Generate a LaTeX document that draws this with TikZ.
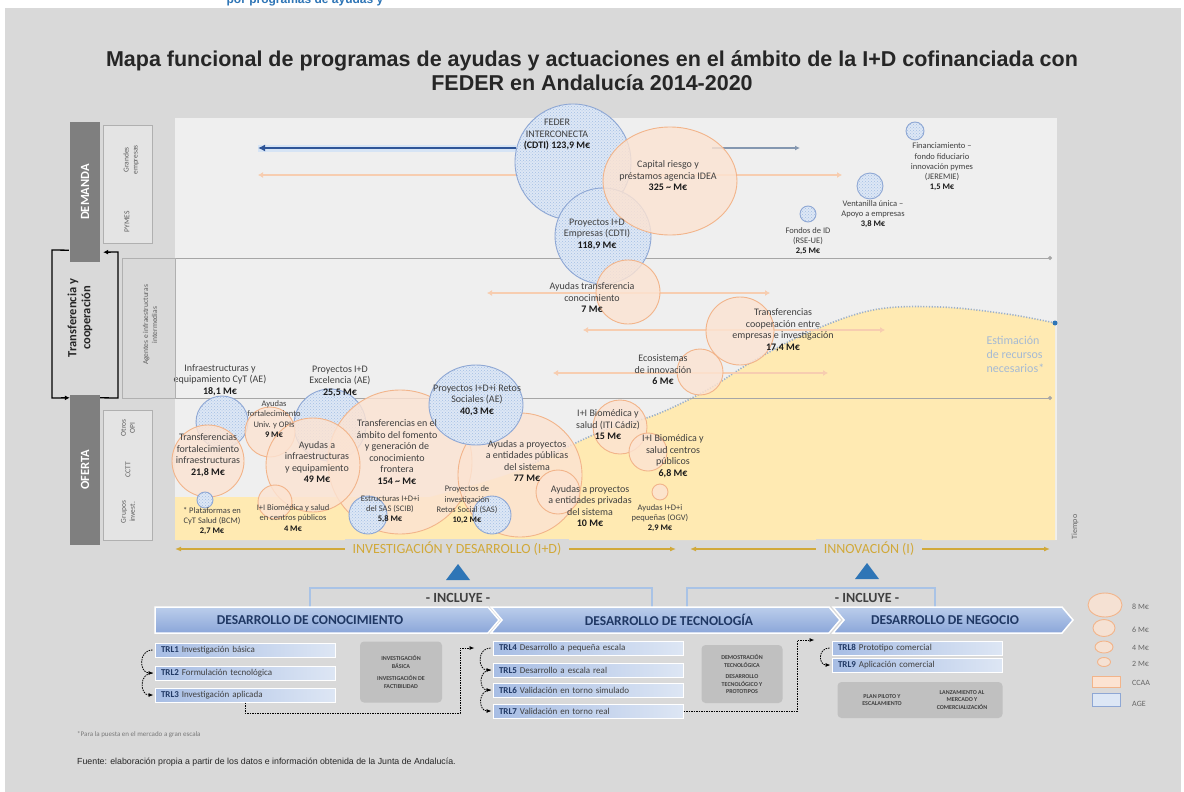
\documentclass[tikz,border=0pt]{standalone}
\usepackage{fontspec}
\setmainfont{Liberation Sans}
\newfontfamily\carl{Carlito}
\usetikzlibrary{patterns,arrows.meta,shapes.geometric}
\definecolor{bggray}{HTML}{D9D9D9}
\definecolor{panelc}{HTML}{EFEFEF}
\definecolor{orf}{HTML}{FCE3D2}
\definecolor{orb}{HTML}{F2B48A}
\definecolor{orl}{HTML}{F7CDB0}
\definecolor{blf}{HTML}{DDE7F5}
\definecolor{blb}{HTML}{8EA7D4}
\definecolor{blp}{HTML}{A3BEE3}
\definecolor{yel}{HTML}{FFEAB2}
\definecolor{goldc}{HTML}{D1A93A}
\definecolor{navy}{HTML}{203864}
\definecolor{dkblue}{HTML}{2F5597}
\definecolor{glow}{HTML}{D6E4F5}
\definecolor{grayblue}{HTML}{8497B0}
\definecolor{txt}{HTML}{404040}
\definecolor{valc}{HTML}{1A1A1A}
\definecolor{darkbox}{HTML}{7F7F7F}
\definecolor{sidebox}{HTML}{E4E4E4}
\definecolor{sideline}{HTML}{B0B0B0}
\definecolor{trlL}{HTML}{A7BDE4}
\definecolor{trlR}{HTML}{DDE6F4}
\definecolor{grbox}{HTML}{C0C0C0}
\definecolor{chevT}{HTML}{BBCDEB}
\definecolor{chevB}{HTML}{8BA6D9}
\definecolor{estim}{HTML}{A5BAD4}
\definecolor{trib}{HTML}{2E75B6}
\definecolor{sepc}{HTML}{A6A6A6}
\definecolor{incl}{HTML}{A9C3E6}
\definecolor{curvec}{HTML}{9DB1CB}
\newcommand{\bval}[1]{{\color{valc}\bfseries #1}}
\begin{document}
\begin{tikzpicture}[x=1pt,y=-1pt,
  ob/.style={circle,draw=orb,fill=orf,fill opacity=0.82,line width=0.9pt,inner sep=0pt,minimum size=#1},
  bb/.style={circle,draw=blb,line width=0.9pt,inner sep=0pt,minimum size=#1,preaction={fill=blf},pattern=crosshatch dots,pattern color=blp},
  lb/.style={font=\carl\fontsize{10}{11.5}\selectfont,text=txt,align=center,inner sep=0pt},
  lbs/.style={font=\carl\fontsize{8.5}{10.3}\selectfont,text=txt,align=center,inner sep=0pt},
  sidetxt/.style={font=\carl\fontsize{7.5}{9}\selectfont,text=txt!85,align=center,rotate=90,inner sep=0pt},
  bigbox/.style={fill=darkbox,minimum width=30pt,inner sep=0pt},
  bigtxt/.style={font=\carl\bfseries\fontsize{12.5}{14}\selectfont,text=white,rotate=90},
  pline/.style={line width=2.2pt,color=orl,{Latex[length=5pt,width=6pt]}-{Latex[length=5pt,width=6pt]}},
  sepl/.style={line width=1pt,color=sepc,-{Circle[length=4pt]}},
  chev/.style={top color=chevT,bottom color=chevB,draw=white,line width=1.5pt},
  chevt/.style={font=\carl\bfseries\fontsize{13.5}{15}\selectfont,text=navy},
  trl/.style={rectangle,left color=trlL,right color=trlR,draw=white,line width=1pt,minimum height=14pt,inner xsep=6pt,inner ysep=0pt,text width=#1,align=left,font=\carl\fontsize{9}{10}\selectfont,text=txt},
  gbox/.style={rectangle,rounded corners=4pt,fill=grbox,inner sep=0pt,align=center,font=\carl\bfseries\fontsize{6}{7.5}\selectfont,text=txt},
  dconn/.style={line width=0.9pt,dash pattern=on 1.5pt off 1pt,-{Latex[length=5pt,width=4pt]}},
  curl/.style={line width=0.8pt,dash pattern=on 1.5pt off 1pt,-{Latex[length=5pt,width=4pt]}},
  goldt/.style={font=\carl\fontsize{14}{16}\selectfont,text=goldc,fill=bggray,inner xsep=8pt},
  goldl/.style={line width=1.3pt,color=goldc,{Latex[length=6pt,width=5pt]}-{Latex[length=6pt,width=5pt]}},
  inclt/.style={font=\carl\bfseries\fontsize{14}{16}\selectfont,text=txt,fill=bggray,inner xsep=4pt,inner ysep=3pt},
  inclb/.style={line width=2.2pt,color=incl},
  legt/.style={font=\carl\fontsize{8}{9}\selectfont,text=txt!80,anchor=west,inner sep=0pt},
]
\useasboundingbox (0,0) rectangle (1184,792);
\fill[white] (0,0) rectangle (1184,792);
\node[font=\bfseries\fontsize{12}{14}\selectfont,text=trib,anchor=base] (toph) at (305,4) {por programas de ayudas y};
\fill[bggray] (5,8) rectangle (1181,792);

% title
\node[font=\bfseries\fontsize{21.5}{24}\selectfont,align=center,text=black!85] (title) at (592,71)
  {Mapa funcional de programas de ayudas y actuaciones en el ámbito de la I+D cofinanciada con\\FEDER en Andalucía 2014-2020};

% panel
\fill[panelc] (175,118) rectangle (1057,540);
\fill[yel] (175,497) -- plot[smooth,tension=0.6] coordinates {(430,497) (520,470) (600,432) (655,415) (707,390) (750,363) (807,333) (873,310) (940,307) (1007,314) (1055,323)} -- (1055,540) -- (175,540) -- cycle;
\draw[curvec,line width=1.6pt,dash pattern=on 1.2pt off 1.6pt] plot[smooth,tension=0.6] coordinates {(520,470) (600,432) (655,415) (707,390) (750,363) (807,333) (873,310) (940,307) (1007,314) (1055,323)};
\fill[trib] (1055,323) circle (2.5pt);
\draw[sepl] (175,258) -- (1052,258);
\draw[sepl] (175,398) -- (1052,398);

% program range lines
\coordinate (bL) at (258,148); \coordinate (bR) at (516,148);
\coordinate (bR2) at (712,148); \coordinate (bE) at (800,148);
\draw[line width=7pt,color=glow] (bL) -- (bR);
\draw[line width=2.2pt,color=dkblue,-{Latex[length=7pt,width=7pt]}] (bR) -- (bL);
\draw[line width=1.8pt,color=grayblue,-{Latex[length=5pt,width=5pt]}] (bR2) -- (bE);
\coordinate (oL) at (258,175); \coordinate (oR) at (842,175);
\draw[pline] (oL) -- (oR);
\coordinate (t1L) at (487,293); \coordinate (t1R) at (770,293);
\draw[pline] (t1L) -- (t1R);
\coordinate (t2L) at (583,330); \coordinate (t2R) at (885,330);
\draw[pline] (t2L) -- (t2R);
\coordinate (t3L) at (553,373); \coordinate (t3R) at (828,373);
\draw[pline] (t3L) -- (t3R);

% demand bubbles
\node[bb=116pt] (feder) at (573,162) {};
\node[bb=96pt] (pie) at (603,236) {};
\node[ob=0pt,ellipse,minimum width=134pt,minimum height=108pt] (capital) at (670,181) {};
\node[bb=16pt] (fondo) at (808,214) {};
\node[bb=26pt] (vent) at (870,186) {};
\node[bb=18pt] (finan) at (915,131) {};

% transfer bubbles
\node[ob=64pt] (ayt) at (628,292) {};
\node[ob=68pt] (tcoop) at (740,331) {};
\node[ob=46pt] (eco) at (700,372) {};

% offer bubbles
\node[bb=52pt] (infcyt) at (222,422) {};
\node[bb=72pt] (exc) at (330,425) {};
\node[ob=144pt] (big) at (400,462) {};
\node[ob=124pt] (p77) at (520,475) {};
\node[bb=0pt,ellipse,minimum width=94pt,minimum height=80pt] (retos) at (476,405) {};
\node[ob=50pt] (fort) at (270,432) {};
\node[ob=72pt] (tfi) at (208,461) {};
\node[ob=94pt] (aie) at (313,465) {};
\node[ob=44pt] (p10) at (558,492) {};
\node[ob=54pt] (b15) at (620,427) {};
\node[ob=38pt] (b68) at (648,452) {};
\node[ob=16pt] (p29) at (660,492) {};
\node[ob=34pt] (b4) at (275,502) {};
\node[bb=38pt] (sas) at (492,515) {};
\node[bb=38pt] (estr) at (368,515) {};
\node[bb=16pt] (plat) at (205,500) {};

% labels demand
\node[lb] (federT) at (557,135) {FEDER\\INTERCONECTA\\\bval{(CDTI) 123,9 M€}};
\node[lb] (pieT) at (597,234) {Proyectos I+D\\Empresas (CDTI)\\\bval{118,9 M€}};
\node[lb] (capT) at (668,176) {Capital riesgo y\\préstamos agencia IDEA\\\bval{325 \textasciitilde{} M€}};
\node[lbs] (fondoT) at (808,241) {Fondos de ID\\(RSE-UE)\\\bval{2,5 M€}};
\node[lbs] (ventT) at (873,214) {Ventanilla única –\\Apoyo a empresas\\\bval{3,8 M€}};
\node[lbs] (finT) at (942,167) {Financiamiento –\\fondo fiduciario\\innovación pymes\\(JEREMIE)\\\bval{1,5 M€}};

% labels transfer
\node[lb] (aytT) at (592,298) {Ayudas transferencia\\conocimiento\\\bval{7 M€}};
\node[lb] (tcoopT) at (783,330) {Transferencias\\cooperación entre\\empresas e investigación\\\bval{17,4 M€}};
\node[lb] (ecoT) at (663,370) {Ecosistemas\\de innovación\\\bval{6 M€}};
\node[font=\carl\fontsize{12}{14}\selectfont,text=estim,align=left,anchor=west] (est) at (983,354) {Estimación\\de recursos\\necesarios*};

% labels offer
\node[lb] (infcytT) at (220,380) {Infraestructuras y\\equipamiento CyT (AE)\\\bval{18,1 M€}};
\node[lb] (excT) at (340,381) {Proyectos I+D\\Excelencia (AE)\\\bval{25,5 M€}};
\node[lbs] (fortT) at (274,419) {Ayudas\\fortalecimiento\\Univ. y OPIs\\\bval{9 M€}};
\node[lb] (tfiT) at (208,455) {Transferencias\\fortalecimiento\\infraestructuras\\\bval{21,8 M€}};
\node[lb] (aieT) at (317,462) {Ayudas a\\infraestructuras\\y equipamiento\\\bval{49 M€}};
\node[lb] (bigT) at (397,452) {Transferencias en el\\ámbito del fomento\\y generación de\\conocimiento\\frontera\\\bval{154 \textasciitilde{} M€}};
\node[lb] (retosT) at (477,400) {Proyectos I+D+i Retos\\Sociales (AE)\\\bval{40,3 M€}};
\node[lb] (p77T) at (527,461) {Ayudas a proyectos\\a entidades públicas\\del sistema\\\bval{77 M€}};
\node[lb] (p10T) at (590,506) {Ayudas a proyectos\\a entidades privadas\\del sistema\\\bval{10 M€}};
\node[lb] (b15T) at (608,425) {I+I Biomédica y\\salud (ITI Cádiz)\\\bval{15 M€}};
\node[lb] (b68T) at (673,456) {I+I Biomédica y\\salud centros\\públicos\\\bval{6,8 M€}};
\node[lbs] (p29T) at (660,518) {Ayudas I+D+i\\pequeñas (OGV)\\\bval{2,9 M€}};
\node[lbs] (sasT) at (467,505) {Proyectos de\\investigación\\Retos Social (SAS)\\\bval{10,2 M€}};
\node[lbs] (estrT) at (390,509) {Estructuras I+D+i\\del SAS (SCIB)\\\bval{5,8 M€}};
\node[lbs] (b4T) at (293,518) {I+I Biomédica y salud\\en centros públicos\\\bval{4 M€}};
\node[lbs] (platT) at (212,521) {* Plataformas en\\CyT Salud (BCM)\\\bval{2,7 M€}};
\node[font=\carl\fontsize{8}{9}\selectfont,text=txt!80,rotate=90] (tiempo) at (1075,527) {Tiempo};

% left side
\node[bigbox,minimum height=140pt] (dem) at (85,192) {};
\node[bigtxt] (demt) at (dem) {DEMANDA};
\node[draw=sideline,fill=sidebox,minimum width=49pt,minimum height=118pt,inner sep=0pt] (demr) at (127.5,184) {};
\node[sidetxt] (ge) at (131,160) {Grandes\\empresas};
\node[sidetxt] (pym) at (127,222) {PYMES};
\node[draw=sideline,minimum width=53pt,minimum height=140pt,inner sep=0pt] (agb) at (148.5,328) {};
\node[sidetxt] (agt) at (150,325) {Agentes e infraestructuras\\intermedias};
\node[bigbox,minimum height=150pt] (ofe) at (85,470) {};
\node[bigtxt] (ofet) at (ofe) {OFERTA};
\node[draw=sideline,fill=sidebox,minimum width=49pt,minimum height=130pt,inner sep=0pt] (ofer) at (127.5,475) {};
\node[sidetxt] (opi) at (128,428) {Otros\\OPI};
\node[sidetxt] (cctt) at (128,470) {CCTT};
\node[sidetxt] (gri) at (128,512) {Grupos\\invest.};
\node[font=\carl\bfseries\fontsize{12.5}{14}\selectfont,rotate=90,align=center,text=black!85] (tyc) at (80,318) {Transferencia y\\cooperación};
\draw[line width=1.3pt,-{Latex[length=5pt,width=5pt]}] ([xshift=-1pt,yshift=12pt]dem.south west) -- (52,250) -- (52,398) -- ([yshift=-3pt]ofe.north west);
\draw[line width=1.3pt,-{Latex[length=5pt,width=5pt]}] ([yshift=-3pt]ofe.north east) -- (118,398) -- (118,252) -- ([xshift=3pt,yshift=10pt]dem.south east);

% gold axis
\coordinate (g1a) at (175,549); \coordinate (g1b) at (676,549);
\draw[goldl] (g1a) -- (g1b);
\node[goldt] (idt) at (457,549) {INVESTIGACIÓN Y DESARROLLO (I+D)};
\coordinate (g2a) at (690,549); \coordinate (g2b) at (1050,549);
\draw[goldl] (g2a) -- (g2b);
\node[goldt] (innt) at (869,549) {INNOVACIÓN (I)};

% triangles and includes
\fill[trib] (458,564) -- (470,580) -- (446,580) -- cycle;
\fill[trib] (867,563) -- (879,579) -- (855,579) -- cycle;
\draw[inclb] (310,607) -- (310,588) -- (652,588) -- (652,607);
\node[inclt] (inc1) at (458,598) {- INCLUYE -};
\draw[inclb] (687,607) -- (687,588) -- (935,588) -- (935,607);
\node[inclt] (inc2) at (867,598) {- INCLUYE -};

% chevrons
\path[chev] (155,607) -- (488,607) -- (499,620) -- (488,633) -- (155,633) -- cycle;
\path[chev] (491,607) -- (829,607) -- (840,620) -- (829,633) -- (491,633) -- (502,620) -- cycle;
\path[chev] (833,607) -- (1062,607) -- (1073,620) -- (1062,633) -- (833,633) -- (844,620) -- cycle;
\node[chevt] (ch1) at (310,620) {DESARROLLO DE CONOCIMIENTO};
\node[chevt] (ch2) at (669,620) {DESARROLLO DE TECNOLOGÍA};
\node[chevt] (ch3) at (945,620) {DESARROLLO DE NEGOCIO};

% TRL boxes
\node[trl=168pt] (trl1) at (245,650) {\textbf{\color{navy}TRL1} Investigación básica};
\node[trl=168pt] (trl2) at (245,673) {\textbf{\color{navy}TRL2} Formulación tecnológica};
\node[trl=168pt] (trl3) at (245,695) {\textbf{\color{navy}TRL3} Investigación aplicada};
\node[trl=178pt] (trl4) at (588,648) {\textbf{\color{navy}TRL4} Desarrollo a pequeña escala};
\node[trl=178pt] (trl5) at (588,670) {\textbf{\color{navy}TRL5} Desarrollo a escala real};
\node[trl=178pt] (trl6) at (588,690) {\textbf{\color{navy}TRL6} Validación en torno simulado};
\node[trl=178pt] (trl7) at (588,711) {\textbf{\color{navy}TRL7} Validación en torno real};
\node[trl=158pt] (trl8) at (917,648) {\textbf{\color{navy}TRL8} Prototipo comercial};
\node[trl=158pt] (trl9) at (917,665) {\textbf{\color{navy}TRL9} Aplicación comercial};

% grey boxes
\node[gbox,minimum width=82pt,minimum height=61pt] (gb1) at (401,672) {INVESTIGACIÓN\\BÁSICA\\[5pt]INVESTIGACIÓN DE\\FACTIBILIDAD};
\node[gbox,minimum width=81pt,minimum height=58pt] (gb2) at (742,674) {DEMOSTRACIÓN\\TECNOLÓGICA\\[4pt]DESARROLLO\\TECNOLÓGICO Y\\PROTOTIPOS};
\node[gbox,minimum width=165pt,minimum height=36pt] (gb3) at (920,700) {};
\node[gbox,fill=none] (gb3a) at (882,700) {PLAN PILOTO Y\\ESCALAMIENTO};
\node[gbox,fill=none] (gb3b) at (962,700) {LANZAMIENTO AL\\MERCADO Y\\COMERCIALIZACIÓN};

% connectors
\draw[dconn] (trl3.south) |- (460,713) |- ([xshift=-18pt]trl4.west);
\draw[dconn] (trl7.east) -- (797,711) |- ([xshift=-17pt,yshift=8pt]trl8.west);
\draw[curl] ([xshift=-2pt]trl1.west) to[out=180,in=180,looseness=1.6] ([xshift=-1pt]trl2.west);
\draw[curl] ([xshift=-2pt]trl2.west) to[out=180,in=180,looseness=1.6] ([xshift=-1pt]trl3.west);
\draw[curl] ([xshift=-2pt]trl4.west) to[out=180,in=180,looseness=1.6] ([xshift=-1pt]trl5.west);
\draw[curl] ([xshift=-2pt]trl5.west) to[out=180,in=180,looseness=1.6] ([xshift=-1pt]trl6.west);
\draw[curl] ([xshift=-2pt]trl6.west) to[out=180,in=180,looseness=1.6] ([xshift=-1pt]trl7.west);
\draw[curl] ([xshift=-2pt]trl8.west) to[out=180,in=180,looseness=1.8] ([xshift=-1pt]trl9.west);

% legend
\node[ob=0pt,ellipse,minimum width=34pt,minimum height=24pt] (lg1) at (1105,605) {};
\node[ob=0pt,ellipse,minimum width=22pt,minimum height=17pt] (lg2) at (1104,628) {};
\node[ob=0pt,ellipse,minimum width=18pt,minimum height=12pt] (lg3) at (1104,647) {};
\node[ob=0pt,ellipse,minimum width=13pt,minimum height=9pt] (lg4) at (1104,662) {};
\node[rectangle,draw=orb,fill=orf,minimum width=28pt,minimum height=11pt,inner sep=0pt] (lg5) at (1106,682) {};
\node[rectangle,draw=blb,fill=blf,minimum width=28pt,minimum height=13pt,inner sep=0pt] (lg6) at (1106,700) {};
\node[legt] (lt1) at (1132,607) {8 M€};
\node[legt] (lt2) at (1132,630) {6 M€};
\node[legt] (lt3) at (1132,648) {4 M€};
\node[legt] (lt4) at (1132,664) {2 M€};
\node[legt] (lt5) at (1132,683) {CCAA};
\node[legt] (lt6) at (1132,704) {AGE};

% footer
\node[font=\carl\fontsize{7}{8}\selectfont,text=txt!70,anchor=west,inner sep=0pt] (fn) at (77,735) {*Para la puesta en el mercado a gran escala};
\node[font=\fontsize{8.8}{11}\selectfont,text=black!85,anchor=west,inner sep=0pt] (src) at (77,762) {Fuente: elaboración propia a partir de los datos e información obtenida de la Junta de Andalucía.};
\end{tikzpicture}
\end{document}
